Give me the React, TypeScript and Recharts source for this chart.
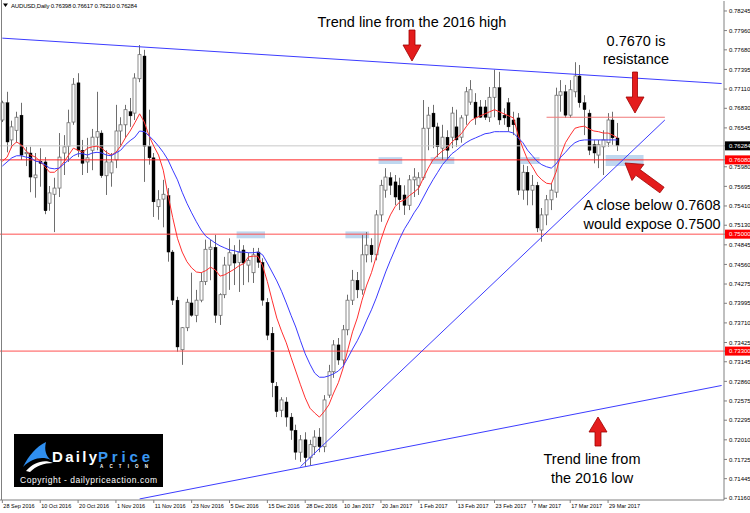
import React from 'react';
import { ComposedChart, Bar, Line, XAxis, YAxis, ReferenceLine, ReferenceArea } from 'recharts';

const OPEN = [.7666,.7691,.7637,.7651,.7673,.7617,.7618,.7582,.7606,.7605,
.7545,.7558,.7567,.7618,.7628,.7663,.7720,.7622,.7605,.7622,
.7641,.7647,.7585,.7589,.7608,.7650,.7659,.7678,.7676,.7726,
.7759,.7628,.7611,.7540,.7551,.7556,.7474,.7404,.7332,.7364,
.7400,.7382,.7404,.7431,.7478,.7481,.7382,.7412,.7455,.7470,
.7459,.7477,.7455,.7444,.7474,.7459,.7401,.7356,.7279,.7244,
.7256,.7234,.7215,.7183,.7201,.7175,.7191,.7205,.7191,.7266,
.7300,.7339,.7317,.7361,.7404,.7433,.7419,.7470,.7484,.7470,
.7528,.7564,.7582,.7576,.7571,.7557,.7542,.7579,.7571,.7582,
.7654,.7676,.7656,.7625,.7641,.7641,.7656,.7641,.7673,.7692,
.7692,.7685,.7685,.7670,.7699,.7713,.7673,.7691,.7666,.7669,
.7564,.7590,.7564,.7571,.7506,.7528,.7550,.7561,.7702,.7707,
.7673,.7707,.7730,.7691,.7676,.7630,.7615,.7627,.7633,.7666,
.76398];

const HIGH = [.7694,.7707,.7665,.7678,.7691,.7627,.7627,.7618,.7625,.7612,
.7570,.7582,.7647,.7644,.7681,.7727,.7734,.7637,.7640,.7653,
.7707,.7651,.7622,.7618,.7688,.7670,.7688,.7698,.7734,.7775,
.7768,.7681,.7618,.7564,.7579,.7567,.7477,.7409,.7365,.7406,
.7444,.7419,.7444,.7492,.7492,.7499,.7414,.7467,.7494,.7484,
.7492,.7484,.7473,.7480,.7480,.7465,.7407,.7365,.7285,.7263,
.7263,.7240,.7223,.7208,.7212,.7201,.7215,.7218,.7266,.7310,
.7346,.7349,.7368,.7412,.7448,.7445,.7499,.7503,.7494,.7535,
.7579,.7596,.7590,.7586,.7582,.7571,.7586,.7596,.7590,.7695,
.7685,.7688,.7662,.7659,.7651,.7685,.7681,.7673,.7714,.7724,
.7705,.7695,.7695,.7714,.7739,.7736,.7683,.7698,.7678,.7676,
.7601,.7599,.7586,.7576,.7538,.7557,.7574,.7713,.7724,.7717,
.7724,.7750,.7746,.7702,.7681,.7637,.7637,.7651,.7676,.7678,
.76617];

const LOW = [.7663,.7619,.7625,.7633,.7608,.7599,.7561,.7553,.7569,.7529,
.7534,.7503,.7554,.7586,.7605,.7659,.7612,.7586,.7589,.7593,
.7622,.7582,.7557,.7569,.7596,.7627,.7640,.7656,.7666,.7721,
.7576,.7601,.7525,.7521,.7510,.7460,.7397,.7329,.7310,.7359,
.7380,.7372,.7401,.7426,.7433,.7371,.7368,.7407,.7419,.7426,
.7416,.7426,.7430,.7429,.7451,.7396,.7346,.7263,.7234,.7234,
.7220,.7201,.7172,.7169,.7162,.7164,.7179,.7183,.7183,.7262,
.7291,.7310,.7310,.7353,.7397,.7407,.7412,.7459,.7459,.7462,
.7518,.7553,.7557,.7542,.7535,.7528,.7535,.7554,.7557,.7579,
.7622,.7625,.7612,.7608,.7608,.7625,.7627,.7633,.7659,.7688,
.7659,.7669,.7666,.7663,.7670,.7659,.7659,.7649,.7644,.7557,
.7550,.7542,.7542,.7503,.7489,.7513,.7535,.7553,.7678,.7669,
.7669,.7699,.7684,.7644,.7615,.7603,.7596,.7586,.7627,.7630,
.76210];

const CLOSE = [.7691,.7634,.7656,.7670,.7615,.7619,.7583,.7586,.7603,.7534,
.7560,.7567,.7612,.7627,.7662,.7718,.7622,.7603,.7611,.7641,
.7649,.7585,.7605,.7605,.7650,.7659,.7681,.7672,.7727,.7761,
.7628,.7611,.7547,.7550,.7558,.7474,.7404,.7336,.7364,.7401,
.7382,.7404,.7431,.7478,.7481,.7382,.7412,.7455,.7473,.7458,
.7474,.7458,.7462,.7470,.7459,.7404,.7353,.7284,.7242,.7259,
.7234,.7215,.7183,.7201,.7175,.7194,.7205,.7191,.7259,.7300,
.7339,.7317,.7361,.7404,.7433,.7419,.7470,.7484,.7470,.7528,
.7571,.7583,.7571,.7554,.7550,.7542,.7579,.7583,.7582,.7654,
.7673,.7656,.7627,.7641,.7622,.7676,.7637,.7669,.7707,.7710,
.7669,.7670,.7670,.7699,.7713,.7666,.7669,.7656,.7659,.7564,
.7590,.7564,.7571,.7509,.7528,.7550,.7564,.7702,.7707,.7673,
.7710,.7730,.7691,.7681,.7622,.7618,.7630,.7637,.7666,.7640,
.76284];

const MA_FAST = [.7606,.7612,.7628,.7634,.7630,.7621,.7615,.7612,.7606,.7598,
.7590,.7590,.7596,.7605,.7615,.7625,.7622,.7619,.7625,.7627,
.7628,.7625,.7619,.7615,.7619,.7628,.7640,.7650,.7662,.7675,
.7663,.7643,.7628,.7615,.7593,.7557,.7524,.7494,.7474,.7460,
.7451,.7445,.7444,.7447,.7452,.7448,.7439,.7441,.7445,.7449,
.7454,.7457,.7467,.7468,.7468,.7454,.7431,.7404,.7378,.7359,
.7342,.7321,.7301,.7281,.7262,.7247,.7240,.7234,.7242,.7252,
.7269,.7284,.7305,.7332,.7358,.7378,.7404,.7426,.7444,.7467,
.7492,.7512,.7528,.7540,.7547,.7550,.7556,.7561,.7567,.7582,
.7596,.7608,.7615,.7621,.7625,.7634,.7640,.7646,.7656,.7665,
.7669,.7672,.7675,.7678,.7681,.7678,.7675,.7672,.7669,.7644,
.7625,.7608,.7598,.7586,.7579,.7574,.7573,.7590,.7615,.7633,
.7644,.7654,.7656,.7657,.7653,.7650,.7649,.7647,.7647,.7644,
.7640];

const MA_SLOW = [.7599,.7605,.7611,.7614,.7614,.7612,.7611,.7606,.7605,.7601,
.7596,.7595,.7596,.7602,.7608,.7614,.7617,.7617,.7615,.7618,
.7619,.7618,.7615,.7614,.7618,.7622,.7630,.7636,.7641,.7650,
.7649,.7643,.7636,.7628,.7619,.7608,.7593,.7579,.7561,.7545,
.7531,.7518,.7506,.7497,.7492,.7487,.7483,.7480,.7477,.7476,
.7474,.7474,.7473,.7473,.7474,.7470,.7458,.7445,.7432,.7417,
.7400,.7382,.7365,.7345,.7326,.7311,.7298,.7292,.7292,.7294,
.7297,.7301,.7308,.7320,.7333,.7345,.7359,.7375,.7390,.7407,
.7426,.7445,.7462,.7478,.7494,.7508,.7519,.7531,.7541,.7554,
.7567,.7579,.7590,.7601,.7609,.7617,.7622,.7628,.7633,.7637,
.7640,.7643,.7646,.7647,.7649,.7649,.7649,.7649,.7647,.7640,
.7633,.7622,.7614,.7606,.7601,.7598,.7596,.7602,.7612,.7619,
.7627,.7633,.7636,.7637,.7637,.7637,.7637,.7637,.7637,.7637,
.7637];

const X_LABELS = ['28 Sep 2016','10 Oct 2016','20 Oct 2016','1 Nov 2016','11 Nov 2016','23 Nov 2016','5 Dec 2016','15 Dec 2016','28 Dec 2016','10 Jan 2017','20 Jan 2017','1 Feb 2017','13 Feb 2017','23 Feb 2017','7 Mar 2017','17 Mar 2017','29 Mar 2017'];
const X_LABEL_STEP = 8;
const TOTAL_SLOTS = 153;

const Y_TICKS = [0.78245,0.7796,0.7768,0.77395,0.7711,0.7683,0.76545,0.7598,0.75695,0.7541,0.7513,0.74845,0.7456,0.74275,0.73995,0.7371,0.73425,0.73145,0.7286,0.72575,0.72295,0.7201,0.71725,0.71445,0.7116];
const CURRENT_PRICE = 0.76284;
const LEVELS = [0.7608, 0.75, 0.733];
const RESISTANCE = 0.767;
const Y_DOMAIN: [number, number] = [0.71135, 0.7839];

const data = Array.from({ length: TOTAL_SLOTS }, (_, i) =>
  i < OPEN.length
    ? { i, o: OPEN[i], h: HIGH[i], l: LOW[i], c: CLOSE[i], fast: MA_FAST[i], slow: MA_SLOW[i] }
    : { i }
);
const X_TICKS = X_LABELS.map((_, k) => k * X_LABEL_STEP);

const FONT = '"Liberation Sans", Arial, sans-serif';

function Candle(props: any) {
  const { x, y, width, height, payload } = props;
  if (!payload || payload.h == null) return null;
  const { o, h, l, c } = payload;
  const top = Math.min(y, y + height);
  const hh = Math.abs(height);
  const k = h === l ? 0 : hh / (h - l);
  const py = (v: number) => top + (h - v) * k;
  const cx = Math.floor(x + width / 2) + 0.5;
  const bull = c >= o;
  const bt = py(Math.max(o, c));
  const bb = py(Math.min(o, c));
  return (
    <g>
      <line x1={cx} x2={cx} y1={top} y2={top + hh} stroke="#6e6e6e" strokeWidth={1} />
      <rect x={cx - 1.5} y={bt} width={3} height={Math.max(bb - bt, 1)} fill={bull ? '#ffffff' : '#000000'} stroke={bull ? '#6e6e6e' : '#000000'} strokeWidth={bull ? 0.8 : 0.4} />
    </g>
  );
}

function YTick(props: any) {
  const { x, y, payload } = props;
  const v = payload.value as number;
  const txt = v.toFixed(5);
  const isCur = Math.abs(v - CURRENT_PRICE) < 1e-7;
  const isLvl = LEVELS.some((L) => Math.abs(L - v) < 1e-7);
  if (isCur || isLvl) {
    return (
      <g>
        <rect x={x - 4} y={y - 4.5} width={26} height={9} fill={isCur ? '#000' : '#ff0000'} />
        <text x={x} y={y + 2.2} fontSize={6} fill="#fff" fontFamily={FONT}>{txt}</text>
      </g>
    );
  }
  return <text x={x} y={y + 2.2} fontSize={6} fill="#000" fontFamily={FONT}>{txt}</text>;
}

function XTick(props: any) {
  const { x, y, payload } = props;
  const idx = X_TICKS.indexOf(payload.value);
  if (idx < 0) return null;
  return <text x={x + 1} y={y + 2.5} fontSize={5.5} fill="#000" fontFamily={FONT}>{X_LABELS[idx]}</text>;
}

function arrowPoints(tx: number, ty: number, px: number, py: number, sw: number, hw: number, hl: number) {
  const dx = px - tx, dy = py - ty;
  const len = Math.sqrt(dx * dx + dy * dy);
  const ux = dx / len, uy = dy / len;
  const nx = -uy, ny = ux;
  const bx = px - ux * hl, by = py - uy * hl;
  const pts = [
    [tx + nx * sw / 2, ty + ny * sw / 2],
    [bx + nx * sw / 2, by + ny * sw / 2],
    [bx + nx * hw / 2, by + ny * hw / 2],
    [px, py],
    [bx - nx * hw / 2, by - ny * hw / 2],
    [bx - nx * sw / 2, by - ny * sw / 2],
    [tx - nx * sw / 2, ty - ny * sw / 2],
  ];
  return pts.map((p) => p[0].toFixed(1) + ',' + p[1].toFixed(1)).join(' ');
}

function Overlay() {
  const txt = { fontFamily: FONT, fontSize: 14.5, fill: '#000', textAnchor: 'middle' as const };
  return (
    <svg width={750} height={513} style={{ position: 'absolute', left: 0, top: 0, pointerEvents: 'none' }}>
      <line x1={1.5} y1={0} x2={1.5} y2={500} stroke="#808080" strokeWidth={1} />
      <polygon points="3,3.5 8,3.5 5.5,7" fill="#000" />
      <text x={11} y={8} fontSize={6} fontFamily={FONT} textLength={126} fill="#000">AUDUSD,Daily  0.76398 0.76617 0.76210 0.76284</text>

      <text x={412} y={27} {...txt}>Trend line from the 2016 high</text>
      <text x={636} y={46} {...txt}>0.7670 is</text>
      <text x={636} y={64} {...txt}>resistance</text>
      <text x={652} y={210} {...txt}>A close below 0.7608</text>
      <text x={652} y={229} {...txt}>would expose 0.7500</text>
      <text x={592} y={464} {...txt}>Trend line from</text>
      <text x={592} y={483} {...txt}>the 2016 low</text>

      <polygon points={arrowPoints(412, 30, 412, 61, 6, 18, 16)} fill="#e41c1c" stroke="#a00000" strokeWidth={0.8} />
      <polygon points={arrowPoints(635, 72, 635, 113, 5, 18, 16)} fill="#e41c1c" stroke="#a00000" strokeWidth={0.8} />
      <polygon points={arrowPoints(662, 190, 625, 163, 7, 20, 16)} fill="#e41c1c" stroke="#a00000" strokeWidth={0.8} />
      <polygon points={arrowPoints(598, 446, 598, 417, 6, 18, 15)} fill="#e41c1c" stroke="#a00000" strokeWidth={0.8} />

      <rect x={14} y={434} width={149} height={53} fill="#000" />
      <path d="M23,467 C29,455 36,447 46,442 C44,450 46,456 51,460 C42,456 32,458 23,467 Z" fill="#2f8ff0" />
      <path d="M26,471 C34,462 44,459 53,463 C44,463 36,466 30,472 Z" fill="#fff" />
      <text x={52} y={462} fontSize={15} fontWeight={900} fontFamily={FONT} fill="#fff" textLength={45}>Daily</text>
      <text x={98} y={462} fontSize={15} fontWeight={900} fontFamily={FONT} fill="#3a98f2" textLength={52}>Price</text>
      <text x={100} y={467.5} fontSize={4.5} fontWeight={700} fontFamily={FONT} fill="#fff" textLength={48}>ACTION</text>
      <text x={20} y={483} fontSize={8.5} fontFamily={FONT} fill="#fff" textLength={137}>Copyright - dailypriceaction.com</text>
    </svg>
  );
}

export default function App() {
  return (
    <div style={{ position: 'absolute', left: 0, top: 0, width: 750, height: 513, background: '#fff' }}>
      <ComposedChart width={750} height={513} data={data} margin={{ top: 1, right: 0, bottom: 0, left: 0 }} barCategoryGap={0}>
        <XAxis dataKey="i" type="category" ticks={X_TICKS} interval={0} tick={(p: any) => <XTick {...p} />} tickSize={3} tickMargin={2} height={13} axisLine={{ stroke: '#808080' }} tickLine={{ stroke: '#808080' }} />
        <YAxis orientation="right" type="number" domain={Y_DOMAIN} allowDataOverflow ticks={[...Y_TICKS, CURRENT_PRICE, ...LEVELS]} interval={0} tick={(p: any) => <YTick {...p} />} tickSize={3} tickMargin={2} width={26} axisLine={{ stroke: '#808080' }} tickLine={{ stroke: '#808080' }} />

        <ReferenceArea x1={80} x2={84} y1={0.7612} y2={0.7602} fill="#a9c9ea" fillOpacity={0.75} stroke="none" ifOverflow="visible" />
        <ReferenceArea x1={91} x2={95} y1={0.7612} y2={0.7602} fill="#a9c9ea" fillOpacity={0.75} stroke="none" ifOverflow="visible" />
        <ReferenceArea x1={110} x2={113} y1={0.7612} y2={0.7602} fill="#a9c9ea" fillOpacity={0.75} stroke="none" ifOverflow="visible" />
        <ReferenceArea x1={128} x2={135} y1={0.7615} y2={0.7599} fill="#a9c9ea" fillOpacity={0.75} stroke="none" ifOverflow="visible" />
        <ReferenceArea x1={50} x2={55} y1={0.7504} y2={0.7494} fill="#a9c9ea" fillOpacity={0.75} stroke="none" ifOverflow="visible" />
        <ReferenceArea x1={73} x2={77} y1={0.7504} y2={0.7494} fill="#a9c9ea" fillOpacity={0.75} stroke="none" ifOverflow="visible" />

        <ReferenceLine y={CURRENT_PRICE} stroke="#c8c8c8" strokeWidth={1} />
        <ReferenceLine y={LEVELS[0]} stroke="#ff2020" strokeWidth={1} />
        <ReferenceLine y={LEVELS[1]} stroke="#ff5050" strokeWidth={1} />
        <ReferenceLine y={LEVELS[2]} stroke="#ff5050" strokeWidth={1} />
        <ReferenceLine segment={[{ x: 115, y: RESISTANCE }, { x: 140, y: RESISTANCE }]} stroke="#f07878" strokeWidth={1.2} ifOverflow="visible" />

        <ReferenceLine segment={[{ x: 0, y: 0.7785 }, { x: 152, y: 0.7719 }]} stroke="#3c3cff" strokeWidth={1} ifOverflow="visible" />
        <ReferenceLine segment={[{ x: 29, y: 0.7115 }, { x: 152, y: 0.7280 }]} stroke="#3c3cff" strokeWidth={1} ifOverflow="visible" />
        <ReferenceLine segment={[{ x: 63, y: 0.7162 }, { x: 140, y: 0.7666 }]} stroke="#3c3cff" strokeWidth={1} ifOverflow="visible" />

        <Bar dataKey={(d: any) => (d.h == null ? null : [d.l, d.h])} barSize={3} shape={(p: any) => <Candle {...p} />} isAnimationActive={false} />
        <Line dataKey="fast" stroke="#ff3030" strokeWidth={1} dot={false} activeDot={false} isAnimationActive={false} />
        <Line dataKey="slow" stroke="#3a3aff" strokeWidth={1} dot={false} activeDot={false} isAnimationActive={false} />
      </ComposedChart>
      <Overlay />
    </div>
  );
}
